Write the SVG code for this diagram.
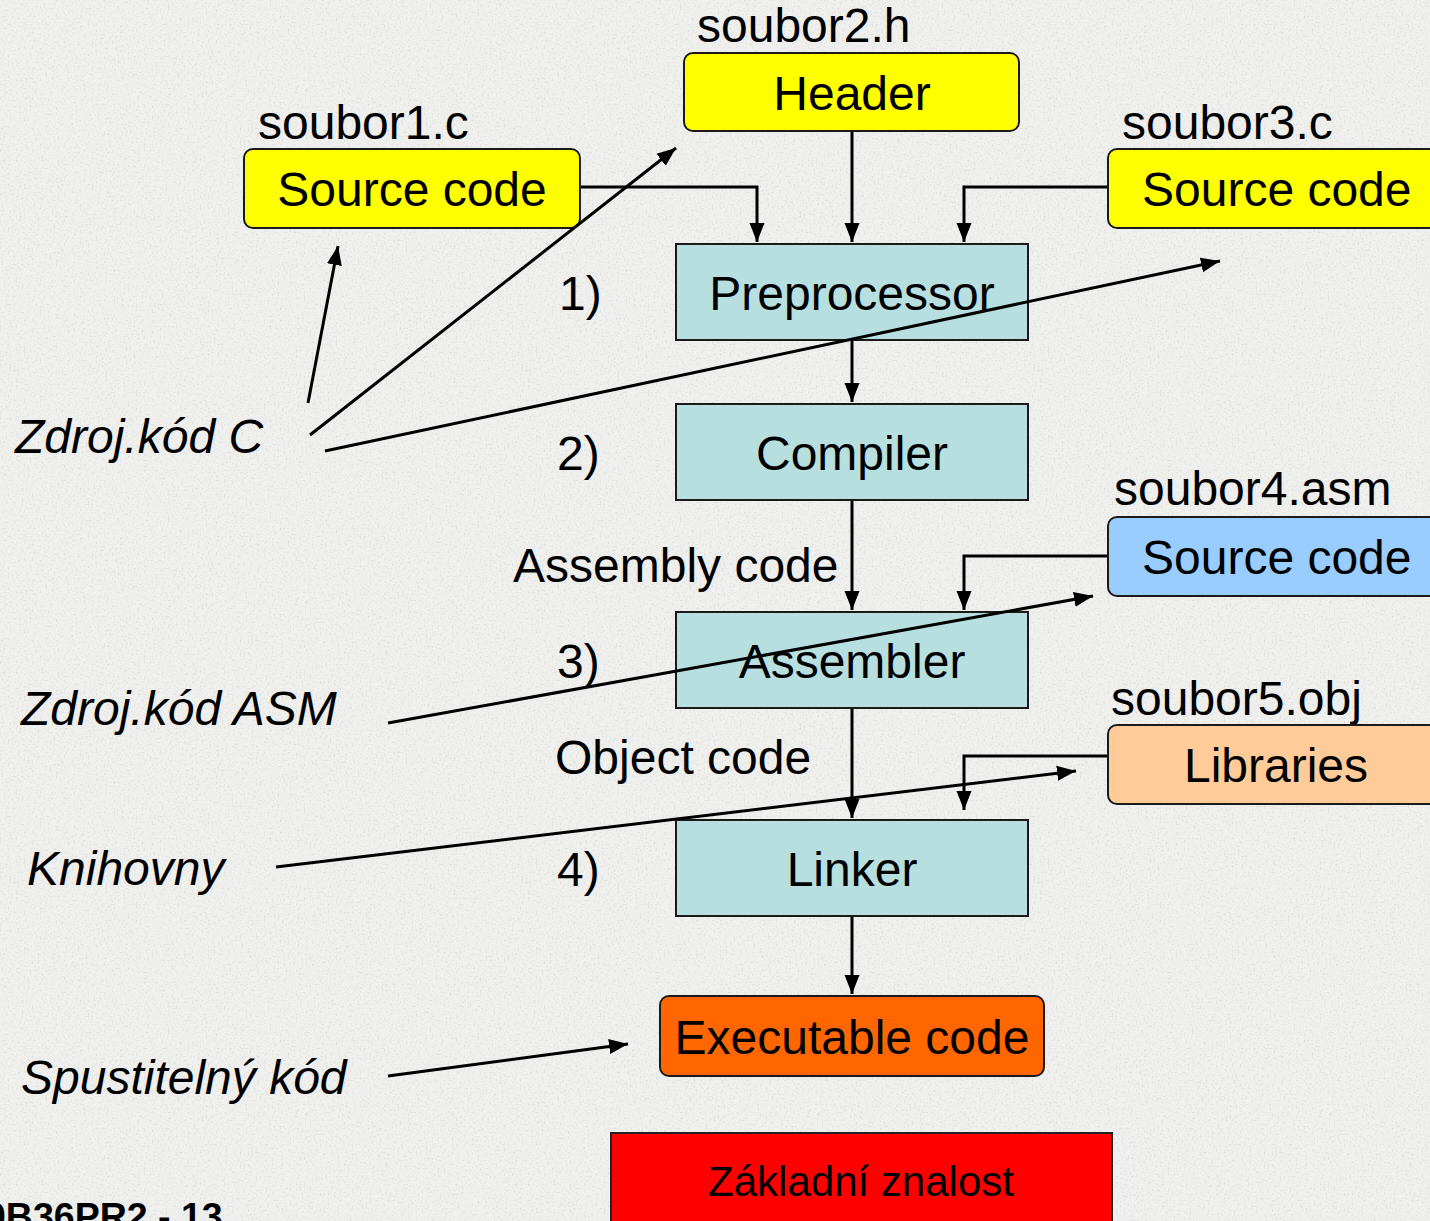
<svg xmlns="http://www.w3.org/2000/svg" width="1430" height="1221" viewBox="0 0 1430 1221">
  <defs>
    <filter id="grain" x="0" y="0" width="100%" height="100%">
      <feTurbulence type="fractalNoise" baseFrequency="0.5" numOctaves="2" seed="3" result="n"/>
      <feColorMatrix type="matrix" values="0 0 0 0 0.55  0 0 0 0 0.55  0 0 0 0 0.53  -1.8 0 0 0 0.85"/>
    </filter>
    <marker id="arr" markerUnits="userSpaceOnUse" markerWidth="20" markerHeight="16" refX="19" refY="8" orient="auto">
      <path d="M0,0.5 L19,8 L0,15.5 z" fill="#000"/>
    </marker>
    <style>
      .t { font-family: "Liberation Sans", Arial, sans-serif; font-size: 48px; fill: #000; }
      .i { font-style: italic; }
      .mid { text-anchor: middle; }
      .proc { fill: #b7dfe0; stroke: #1a1a1a; stroke-width: 2; }
      .rnd { stroke: #1a1a1a; stroke-width: 2; }
      .c { fill: none; stroke: #000; stroke-width: 3; }
    </style>
  </defs>

  <rect x="0" y="0" width="1430" height="1221" fill="#efefed"/>
  <rect x="0" y="0" width="1430" height="1221" filter="url(#grain)" opacity="0.75"/>

  <g id="connectors">
    <polyline class="c" points="580,187 757,187 757,242" marker-end="url(#arr)"/>
    <line class="c" x1="852" y1="131" x2="852" y2="242" marker-end="url(#arr)"/>
    <polyline class="c" points="1108,187 964,187 964,242" marker-end="url(#arr)"/>
    <line class="c" x1="852" y1="340" x2="852" y2="402" marker-end="url(#arr)"/>
    <line class="c" x1="852" y1="500" x2="852" y2="610" marker-end="url(#arr)"/>
    <polyline class="c" points="1108,556 964,556 964,610" marker-end="url(#arr)"/>
    <line class="c" x1="852" y1="708" x2="852" y2="818" marker-end="url(#arr)"/>
    <polyline class="c" points="1108,756 964,756 964,810" marker-end="url(#arr)"/>
    <line class="c" x1="852" y1="916" x2="852" y2="994" marker-end="url(#arr)"/>
  </g>

  <g id="n_soubor2">
    <text class="t" x="697" y="42">soubor2.h</text>
    <rect class="rnd" x="684" y="53" width="335" height="78" rx="9" fill="#ffff00"/>
    <text class="t mid" x="852" y="110">Header</text>
  </g>

  <g id="n_soubor1">
    <text class="t" x="258" y="139">soubor1.c</text>
    <rect class="rnd" x="244" y="149" width="336" height="79" rx="9" fill="#ffff00"/>
    <text class="t mid" x="412" y="206">Source code</text>
  </g>

  <g id="n_soubor3">
    <text class="t" x="1122" y="139">soubor3.c</text>
    <rect class="rnd" x="1108" y="149" width="340" height="79" rx="9" fill="#ffff00"/>
    <text class="t" x="1142" y="206">Source code</text>
  </g>

  <g id="n_preprocessor">
    <rect class="proc" x="676" y="244" width="352" height="96"/>
    <text class="t mid" x="852" y="310">Preprocessor</text>
  </g>

  <g id="n_compiler">
    <rect class="proc" x="676" y="404" width="352" height="96"/>
    <text class="t mid" x="852" y="470">Compiler</text>
  </g>

  <g id="n_soubor4">
    <text class="t" x="1114" y="505">soubor4.asm</text>
    <rect class="rnd" x="1108" y="517" width="340" height="79" rx="9" fill="#99ccff"/>
    <text class="t" x="1142" y="574">Source code</text>
  </g>

  <g id="n_assembler">
    <rect class="proc" x="676" y="612" width="352" height="96"/>
    <text class="t mid" x="852" y="678">Assembler</text>
  </g>

  <g id="n_soubor5">
    <text class="t" x="1111" y="715">soubor5.obj</text>
    <rect class="rnd" x="1108" y="725" width="340" height="79" rx="9" fill="#ffcc99"/>
    <text class="t mid" x="1276" y="782">Libraries</text>
  </g>

  <g id="n_linker">
    <rect class="proc" x="676" y="820" width="352" height="96"/>
    <text class="t mid" x="852" y="886">Linker</text>
  </g>

  <g id="n_executable">
    <rect class="rnd" x="660" y="996" width="384" height="80" rx="9" fill="#ff6600"/>
    <text class="t mid" x="852" y="1054">Executable code</text>
  </g>

  <g id="n_zakladni">
    <rect x="611" y="1133" width="501" height="100" fill="#ff0000" stroke="#222" stroke-width="2"/>
    <text class="t mid" x="861" y="1196" style="font-size:42px">Základní znalost</text>
  </g>

  <g id="labels">
    <text class="t" x="559" y="310">1)</text>
    <text class="t" x="557" y="470">2)</text>
    <text class="t" x="557" y="678">3)</text>
    <text class="t" x="557" y="886">4)</text>
    <text class="t" x="513" y="582">Assembly code</text>
    <text class="t" x="555" y="774">Object code</text>
  </g>

  <g id="annotations">
    <text class="t i" x="15" y="453">Zdroj.kód C</text>
    <text class="t i" x="21" y="725">Zdroj.kód ASM</text>
    <text class="t i" x="27" y="885">Knihovny</text>
    <text class="t i" x="21" y="1094">Spustitelný kód</text>
    <line class="c" x1="308" y1="403" x2="338" y2="246" marker-end="url(#arr)"/>
    <line class="c" x1="310" y1="435" x2="676" y2="148" marker-end="url(#arr)"/>
    <line class="c" x1="325" y1="451" x2="1220" y2="261" marker-end="url(#arr)"/>
    <line class="c" x1="388" y1="723" x2="1093" y2="596" marker-end="url(#arr)"/>
    <line class="c" x1="276" y1="867" x2="1076" y2="771" marker-end="url(#arr)"/>
    <line class="c" x1="388" y1="1076" x2="628" y2="1044" marker-end="url(#arr)"/>
  </g>

  <text x="-15" y="1229" style="font-family:'Liberation Sans', Arial, sans-serif; font-size:37.5px; font-weight:bold; fill:#000">0B36PR2 - 13</text>
</svg>
